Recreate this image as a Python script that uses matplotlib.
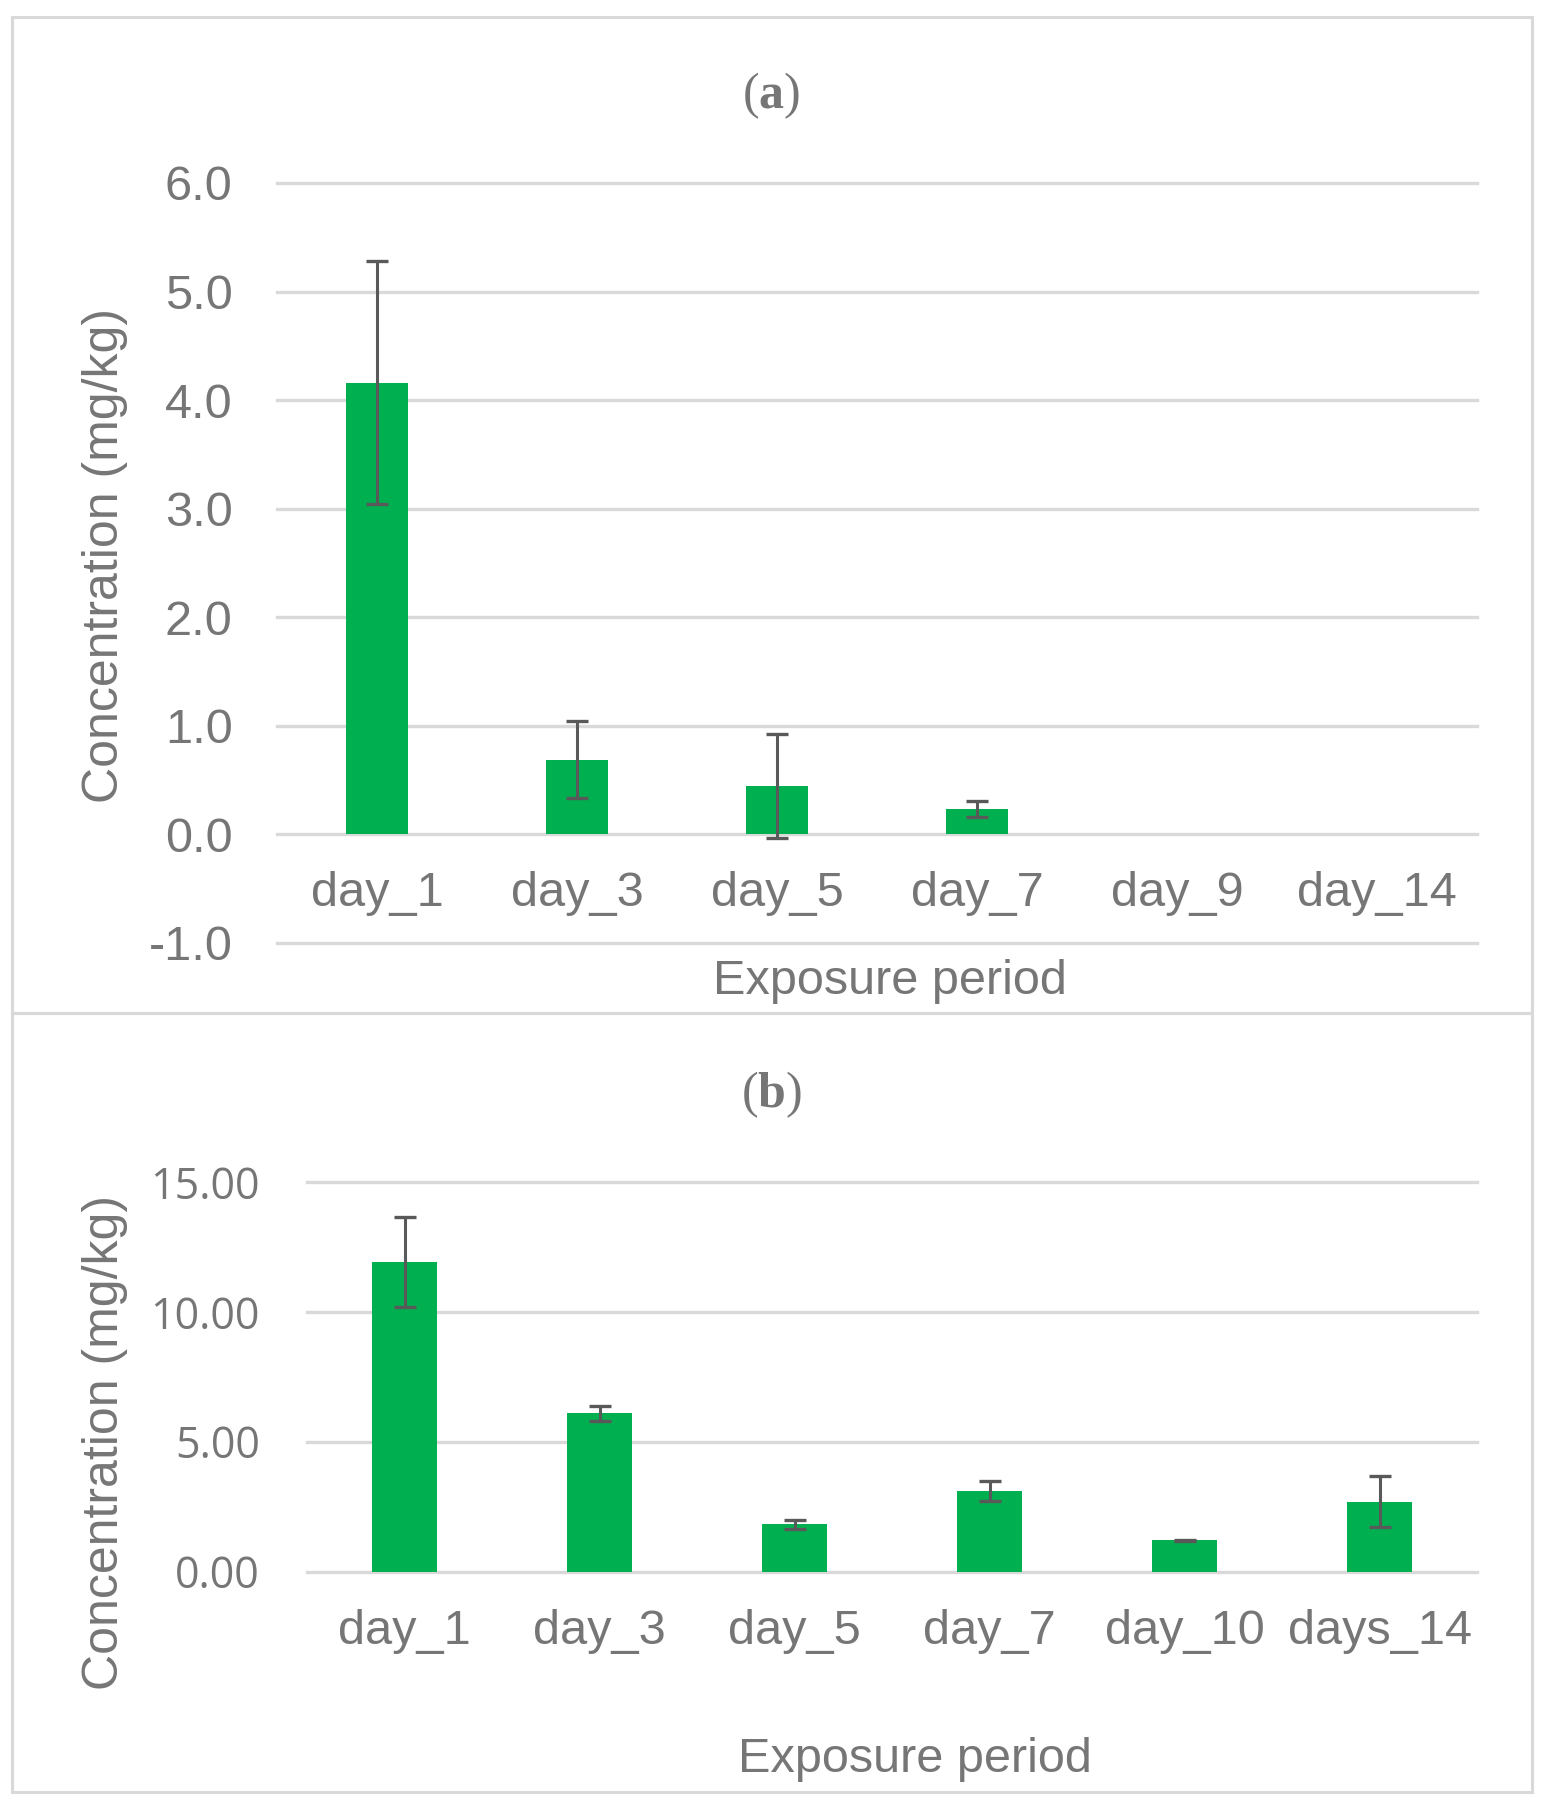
import matplotlib
matplotlib.use("Agg")
import matplotlib.pyplot as plt
from matplotlib.patches import Rectangle
from matplotlib.ticker import FormatStrFormatter, MultipleLocator

# ---------------- data ----------------
cats_a = ["day_1", "day_3", "day_5", "day_7", "day_9", "day_14"]
vals_a = [4.16, 0.69, 0.448, 0.235, 0.0, 0.0]
errs_a = [1.12, 0.357, 0.48, 0.07, 0.0, 0.0]

cats_b = ["day_1", "day_3", "day_5", "day_7", "day_10", "days_14"]
vals_b = [11.92, 6.10, 1.82, 3.09, 1.20, 2.69]
errs_b = [1.75, 0.29, 0.18, 0.38, 0.03, 0.98]

title_a = "a"
title_b = "b"
xlabel = "Exposure period"
ylabel = "Concentration (mg/kg)"

# ---------------- style ----------------
W, H = 1548, 1807
DPI = 100
plt.rcParams["axes.unicode_minus"] = False
plt.rcParams["mathtext.fontset"] = "custom"
plt.rcParams["mathtext.rm"] = "Liberation Serif"
plt.rcParams["mathtext.bf"] = "Liberation Serif:bold"

TXT = "#767676"
GRID = "#d9d9d9"
BAR = "#00b050"
ERR = "#595959"
SANS = "Liberation Sans"

fig = plt.figure(figsize=(W / DPI, H / DPI), dpi=DPI)


def fx(px):
    return px / W


def fy(py):
    return 1 - py / H


def make_axes(left, right, top, bottom):
    return fig.add_axes([fx(left), fy(bottom), fx(right) - fx(left), (bottom - top) / H])


# panel borders
for (x0, y0, x1, y1) in [(12, 17, 1532, 1013), (12, 1013, 1532, 1792)]:
    fig.patches.append(Rectangle((fx(x0), fy(y1)), fx(x1) - fx(x0), (y1 - y0) / H,
                                 transform=fig.transFigure, fill=False,
                                 edgecolor=GRID, linewidth=2.2))


def style_axes(ax, cats, vals, errs, width, ymin, ymax, step, fmt, ytick_font, ytick_size,
               ypad, xpad):
    x = list(range(len(cats)))
    ax.bar(x, vals, width=width, color=BAR, zorder=3)
    ex = [i for i in x if errs[i] > 0]
    ax.errorbar(ex, [vals[i] for i in ex], yerr=[errs[i] for i in ex], fmt="none",
                ecolor=ERR, elinewidth=2.2, capsize=8, capthick=2.4, zorder=4)
    ax.set_xlim(-0.5, len(cats) - 0.5)
    ax.set_ylim(ymin, ymax)
    ax.yaxis.set_major_locator(MultipleLocator(step))
    ax.yaxis.set_major_formatter(FormatStrFormatter(fmt))
    ax.set_xticks(x)
    ax.set_xticklabels(cats)
    for s in ax.spines.values():
        s.set_visible(False)
    ax.spines["bottom"].set_position(("data", 0))
    ax.tick_params(axis="both", length=0)
    ax.tick_params(axis="x", pad=xpad, labelsize=35, labelcolor=TXT)
    ax.tick_params(axis="y", pad=ypad, labelsize=ytick_size, labelcolor=TXT)
    for lab in ax.get_xticklabels():
        lab.set_fontfamily(SANS)
    for lab in ax.get_yticklabels():
        lab.set_fontfamily(ytick_font)
    ax.set_axisbelow(True)
    ax.yaxis.grid(True, color=GRID, linewidth=2.4)
    ax.xaxis.grid(False)
    for gl in ax.get_ygridlines():
        gl.set_clip_on(False)
    ax.patch.set_visible(False)


# ---------------- panel (a) ----------------
ax_a = make_axes(277, 1477, 183, 943)
style_axes(ax_a, cats_a, vals_a, errs_a, 0.31, -1, 6, 1, "%.1f", SANS, 35, 32, 26)

# ---------------- panel (b) ----------------
ax_b = make_axes(307, 1477, 1182, 1571.5)
style_axes(ax_b, cats_b, vals_b, errs_b, 0.333, 0, 15, 5, "%.2f", "Open Sans", 31, 34, 27)

# titles
for t, py in [(title_a, 96), (title_b, 1095)]:
    fig.text(fx(771), fy(py), r"$\mathrm{(}\mathbf{" + t + r"}\mathrm{)}$",
             ha="center", va="center", fontsize=36, color=TXT)

# axis labels
for px, py in [(890, 981), (915, 1760)]:
    fig.text(fx(px), fy(py), xlabel, ha="center", va="center", fontsize=35,
             color=TXT, family=SANS)
for py in [555, 1443]:
    fig.text(fx(105), fy(py), ylabel, ha="center", va="center", rotation=90,
             fontsize=36, color=TXT, family=SANS)

fig.savefig("out.png", dpi=DPI)
